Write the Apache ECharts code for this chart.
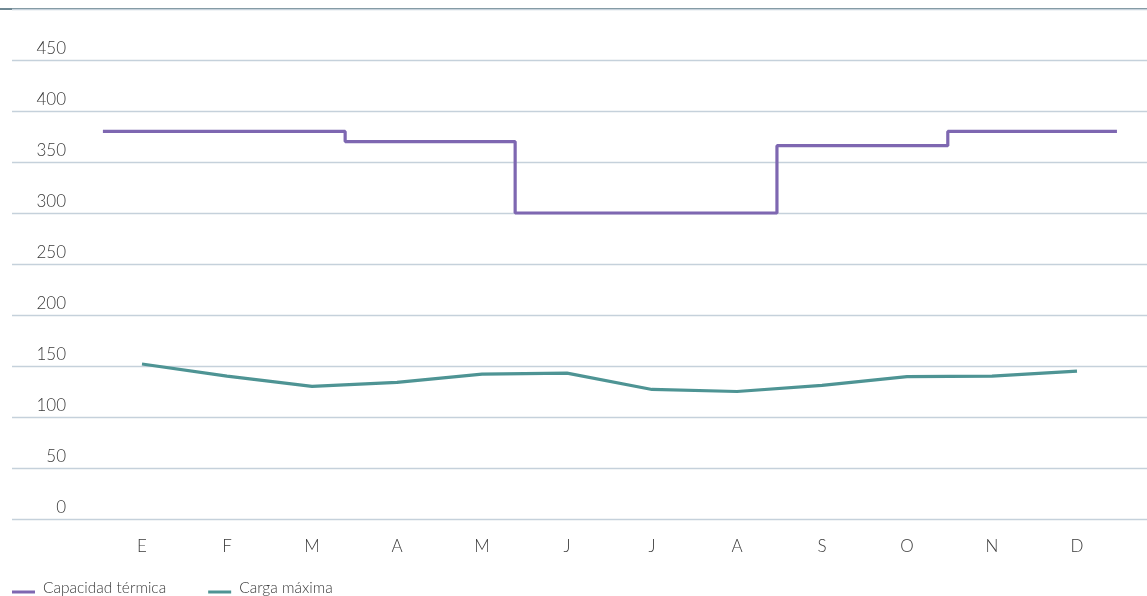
<!DOCTYPE html>
<html>
<head>
<meta charset="utf-8">
<script src="https://cdn.jsdelivr.net/npm/echarts@6/dist/echarts.min.js"></script>
<style>
  html, body { margin: 0; padding: 0; background: #fff; }
  #chart { width: 1147px; height: 596px; }
</style>
</head>
<body>
<div id="chart"></div>
<script>
// meses (eje X)
const meses = ['E', 'F', 'M', 'A', 'M', 'J', 'J', 'A', 'S', 'O', 'N', 'D'];

// Carga máxima, un valor por mes
const cargaMaxima = [152, 140, 130, 134, 142, 143, 127, 125, 131, 139.5, 140, 145];

// Capacidad térmica: tramos escalonados (posición en meses, valor)
const capacidadPos = [0.04, 2.89, 4.89, 7.97, 9.98, 11.97];
const capacidadValor = [380, 370, 300, 366, 380, 380];

// ticks del eje Y
const yMin = 0;
const yMax = 500;
const yPaso = 50;

const fuente = 'Lato, "Open Sans", sans-serif';
const colorTexto = '#3a3a3a';
const colorMorado = '#7e67b1';
const colorVerde = '#4e9494';

const chart = echarts.init(document.getElementById('chart'));

chart.setOption({
  animation: false,
  textStyle: { fontFamily: fuente },
  grid: [
    // rejilla ancha: líneas horizontales y etiquetas del eje Y
    { left: 12, right: 0, top: 9, bottom: 77 },
    // zona de datos: meses
    { left: 99.5, right: 27.5, top: 9, bottom: 77 },
  ],
  xAxis: [
    { gridIndex: 0, type: 'value', min: 0, max: 1, show: false },
    {
      gridIndex: 1,
      type: 'category',
      data: meses,
      boundaryGap: true,
      axisLine: { show: false },
      axisTick: { show: false },
      axisLabel: {
        margin: 18,
        fontSize: 17,
        fontWeight: 300,
        lineHeight: 20,
        color: colorTexto,
        fontFamily: fuente,
      },
    },
    { gridIndex: 1, type: 'value', min: 0, max: 12, show: false },
  ],
  yAxis: [
    {
      gridIndex: 0,
      type: 'value',
      min: yMin,
      max: yMax,
      interval: yPaso,
      axisLine: { show: false },
      axisTick: { show: false },
      axisLabel: {
        showMaxLabel: false,
        margin: -54,
        align: 'right',
        verticalAlign: 'bottom',
        fontSize: 17,
        fontWeight: 300,
        lineHeight: 20,
        padding: [0, 0, 1, 0],
        color: colorTexto,
        fontFamily: fuente,
      },
      splitLine: { lineStyle: { color: '#c5d1db', width: 1.3 } },
    },
    { gridIndex: 1, type: 'value', min: yMin, max: yMax, interval: yPaso, show: false },
  ],
  legend: {
    left: 12,
    top: 580,
    padding: 0,
    icon: 'rect',
    itemWidth: 23,
    itemHeight: 3,
    itemGap: 42,
    data: ['Capacidad térmica', 'Carga máxima'],
    formatter: '{t|{name}}',
    textStyle: {
      color: colorTexto,
      fontFamily: fuente,
      rich: {
        t: {
          fontSize: 15.5,
          fontWeight: 300,
          lineHeight: 14,
          padding: [0, 0, 8, 3],
          color: colorTexto,
          fontFamily: fuente,
        },
      },
    },
  },
  graphic: [
    {
      type: 'line',
      shape: { x1: 0, y1: 9, x2: 1147, y2: 9 },
      style: { stroke: '#6f8893', lineWidth: 2 },
      silent: true,
    },
  ],
  series: [
    {
      name: 'Capacidad térmica',
      type: 'line',
      xAxisIndex: 2,
      yAxisIndex: 1,
      step: 'end',
      symbol: 'none',
      data: capacidadPos.map((x, i) => [x, capacidadValor[i]]),
      lineStyle: { color: colorMorado, width: 3.2 },
      itemStyle: { color: colorMorado },
    },
    {
      name: 'Carga máxima',
      type: 'line',
      xAxisIndex: 1,
      yAxisIndex: 1,
      symbol: 'none',
      data: cargaMaxima,
      lineStyle: { color: colorVerde, width: 3.2 },
      itemStyle: { color: colorVerde },
    },
  ],
});
</script>
</body>
</html>
